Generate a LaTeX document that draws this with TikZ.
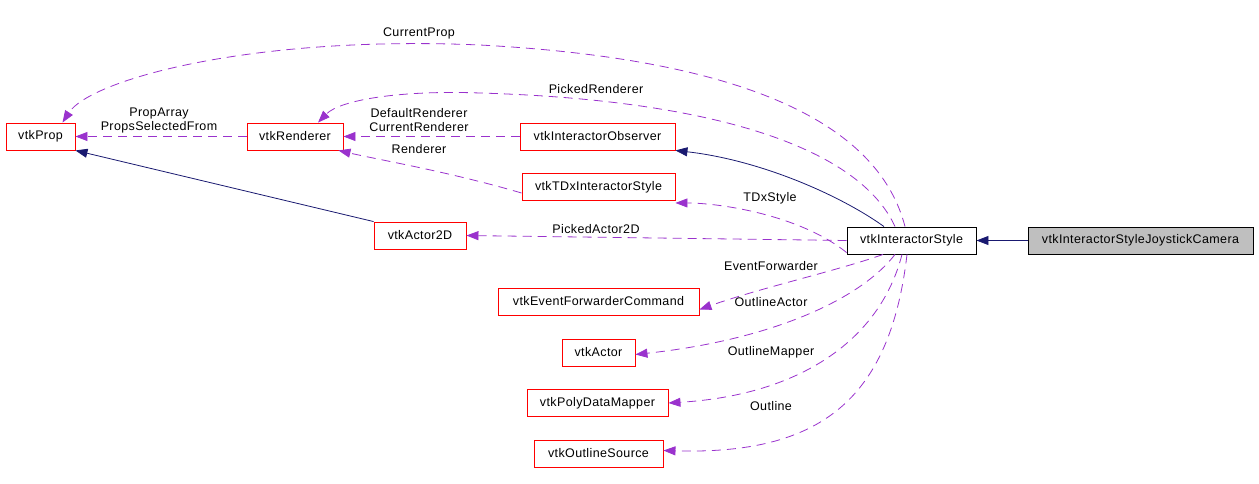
\documentclass[tikz,border=0pt]{standalone}
\usepackage{fontspec}
\setmainfont{Liberation Sans}[LetterSpace=3]
\usetikzlibrary{arrows.meta}
\definecolor{usecol}{HTML}{9A32CD}
\definecolor{inhcol}{HTML}{191970}
\definecolor{boxred}{HTML}{FF0000}
\definecolor{boxgray}{HTML}{BFBFBF}
\tikzset{
  cls/.style={draw=boxred, line width=0.9pt, rectangle, minimum height=27pt, inner sep=0pt, font=\fontsize{12.5}{14}\selectfont},
  main/.style={cls, draw=black},
  cur/.style={cls, draw=black, fill=boxgray},
  lbl/.style={inner sep=0pt, font=\fontsize{12.5}{14}\selectfont},
  use/.style={draw=usecol, line width=0.8pt, dash pattern=on 9pt off 6pt, -{Triangle[length=12pt,width=9pt,fill=usecol]}},
  inh/.style={draw=inhcol, line width=0.8pt, -{Triangle[length=12pt,width=9pt,fill=inhcol]}},
}
\begin{document}
\begin{tikzpicture}[x=1pt,y=-1pt]
\useasboundingbox (0,0) rectangle (1259,483);
% nodes
\node[cls, minimum width=69pt] (prop) at (40.5,136.5) {vtkProp};
\node[cls, minimum width=96pt] (rend) at (295,136.5) {vtkRenderer};
\node[cls, minimum width=155pt] (iobs) at (597.5,136.5) {vtkInteractorObserver};
\node[cls, minimum width=153pt] (tdx) at (598.5,187) {vtkTDxInteractorStyle};
\node[cls, minimum width=92pt] (a2d) at (420,235.5) {vtkActor2D};
\node[main, minimum width=129pt] (is) at (911.5,240.5) {vtkInteractorStyle};
\node[cur, minimum width=225pt] (isjc) at (1140.5,240.5) {vtkInteractorStyleJoystickCamera};
\node[cls, minimum width=201pt] (efc) at (598.5,301.5) {vtkEventForwarderCommand};
\node[cls, minimum width=73pt] (act) at (598.5,352.5) {vtkActor};
\node[cls, minimum width=141pt] (pdm) at (597.5,403) {vtkPolyDataMapper};
\node[cls, minimum width=129pt] (osrc) at (598.5,453.5) {vtkOutlineSource};
% inheritance
\draw[inh] (isjc.west) -- (is.east);
\draw[inh] ([xshift=-27.5pt]is.north) .. controls (840,195) and (760,160) .. (iobs.south east);
\draw[inh] (a2d.north west) -- (prop.south east);
% usage
\draw[use] ([xshift=-6.5pt]is.north) .. controls (880,130) and (760,60) .. (480,45) .. controls (250,35) and (90,80) .. ([xshift=22pt]prop.north);
\draw[use] ([xshift=-16.5pt]is.north) .. controls (860,150) and (720,100) .. (480,93) .. controls (400,90) and (340,100) .. ([xshift=23pt]rend.north);
\draw[use] (rend.west) -- (prop.east);
\draw[use] (iobs.west) -- (rend.east);
\draw[use] ([yshift=-6pt]tdx.west) .. controls (450,172) and (380,160) .. ([xshift=-5pt]rend.south east);
\draw[use] ([yshift=-12pt]is.west) .. controls (800,215) and (720,203) .. ([yshift=-2pt]tdx.south east);
\draw[use] (is.west) -- (a2d.east);
\draw[use] ([xshift=-28.5pt]is.south) .. controls (840,270) and (760,288) .. ([yshift=-8pt]efc.east);
\draw[use] ([xshift=-16.5pt]is.south) .. controls (860,300) and (770,340) .. ([yshift=-2pt]act.east);
\draw[use] ([xshift=-9.5pt]is.south) .. controls (880,340) and (800,395) .. (pdm.east);
\draw[use] ([xshift=-4.5pt]is.south) .. controls (890,400) and (820,455) .. ([yshift=3pt]osrc.east);
% labels
\node[lbl] (lcp) at (419,33) {CurrentProp};
\node[lbl] (lpr) at (596,89) {PickedRenderer};
\node[lbl, align=center] (lpa) at (159,120) {PropArray\\PropsSelectedFrom};
\node[lbl, align=center] (ldr) at (419,120) {DefaultRenderer\\CurrentRenderer};
\node[lbl] (lr) at (419,149) {Renderer};
\node[lbl] (ltdx) at (770,198) {TDxStyle};
\node[lbl] (lpa2) at (596,229) {PickedActor2D};
\node[lbl] (lef) at (771,266) {EventForwarder};
\node[lbl] (loa) at (771,302) {OutlineActor};
\node[lbl] (lom) at (771,352) {OutlineMapper};
\node[lbl] (lo) at (771,406) {Outline};
\end{tikzpicture}
\end{document}
